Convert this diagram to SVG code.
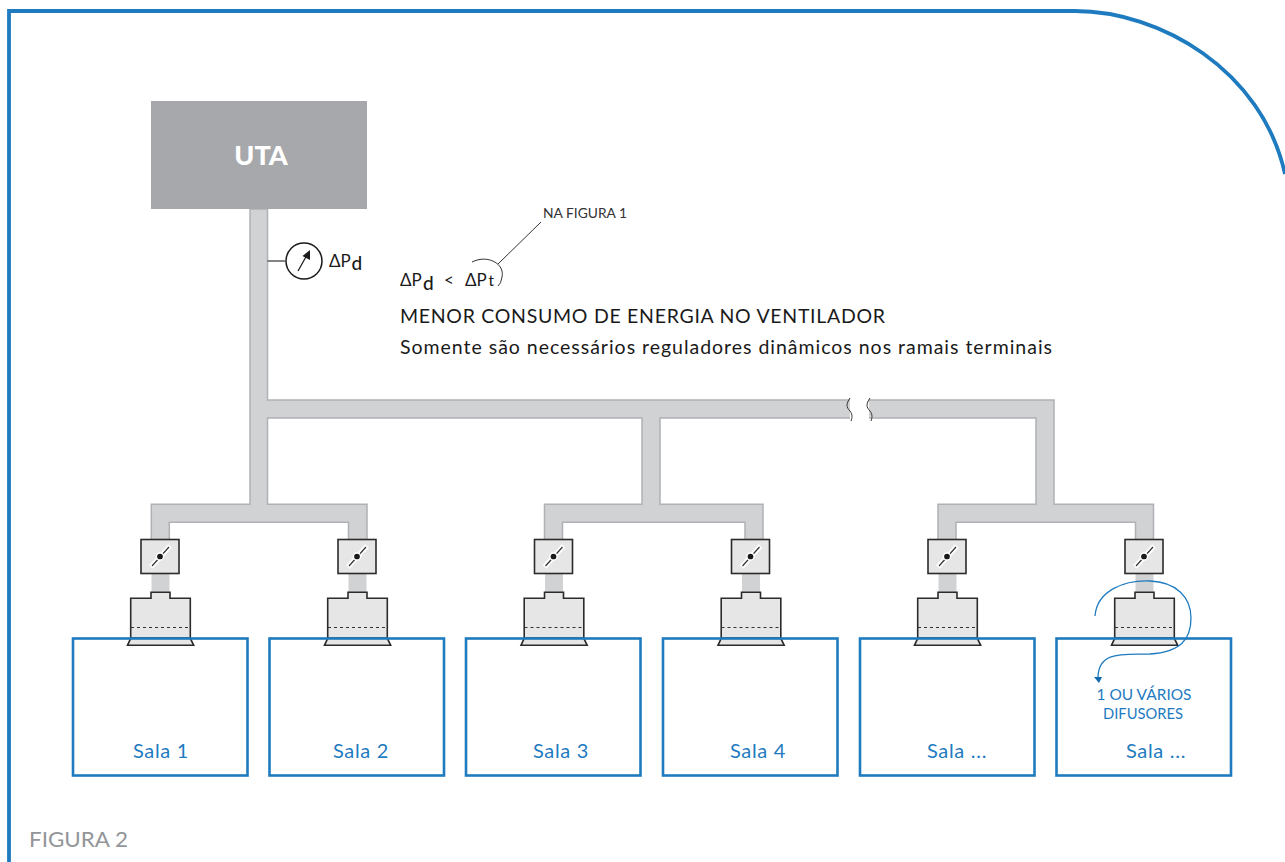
<svg xmlns="http://www.w3.org/2000/svg" width="1285" height="862" viewBox="0 0 1285 862">
<style>
text{font-family:"Lato","Liberation Sans",sans-serif}
.duct{fill:#d1d2d4;stroke:#b0b1b4;stroke-width:1.5}
.room{fill:none;stroke:#1f7bbf;stroke-width:2.6}
.rl{fill:#1f7bbf;font-size:20px;letter-spacing:.7px;text-anchor:middle}
.k{fill:#1a1a1a;font-size:17px}
.sub{font-size:19px;font-weight:500}
.box{fill:#e6e6e7;stroke:#2b2b2b;stroke-width:1.6}
.thin{fill:none;stroke:#333;stroke-width:1}
</style>
<defs>
<g id="unit">
<rect x="151.5" y="573" width="18" height="20" fill="#d1d2d4"/>
<rect class="box" x="141" y="539.5" width="38" height="34"/>
<path d="M151 567 L170 546" stroke="#fff" stroke-width="5" fill="none"/>
<path d="M152 566 L169 547" stroke="#333" stroke-width="1.2" fill="none"/>
<circle cx="160" cy="556.5" r="3.6" fill="#1a1a1a" stroke="#fff" stroke-width="1.5"/>
<path class="box" d="M130.7 638.3 V598.3 H151 V592.3 H170 V598.3 H190.3 V638.3 Z"/>
<path class="box" d="M130.7 638.3 H190.3 L193.7 645.3 H127.5 Z"/>
<path d="M131 627.5 H190" stroke="#333" stroke-width="1.2" stroke-dasharray="3 3" fill="none"/>
</g>
</defs>
<rect width="1285" height="862" fill="#fff"/>
<path id="frame" d="M9 862 V11 H1075 C1160 11 1262 70 1285 174" fill="none" stroke="#1f7bbf" stroke-width="3.8"/>
<g id="connectors">
<path class="duct" d="M250 209 H267.5 V400 H1054 V504.3 H1153.5 V540 H1135.5 V522.3 H956 V540 H938 V504.3 H1036 V418 H660 V504.3 H763 V540 H745 V522.3 H562.5 V540 H544.5 V504.3 H642 V418 H267.5 V504.3 H367 V540 H348.5 V522.3 H169.3 V540 H151.3 V504.3 H250 Z"/>
<path d="M850 399 H869 V419 H850 Z" fill="#fff"/>
<path class="thin" d="M850 398 C846 404 846 407 850 411 C853 415 852 418 851 421"/>
<path class="thin" d="M870 398 C866 404 866 407 870 411 C873 415 872 418 871 421"/>
<path d="M267.5 261 H285" stroke="#333" stroke-width="1.2"/>
<path class="thin" d="M498 264 L541 222"/>
<path class="thin" d="M472 262 C488 254 505 264 502 277 Q501 284 498 286"/>
</g>
<g id="uta"><rect x="151" y="101" width="216" height="108" fill="#a7a8ab"/><text x="261" y="165" fill="#fff" font-size="27" font-weight="900" text-anchor="middle">UTA</text></g>
<g id="gauge"><circle cx="304" cy="261" r="18" fill="#fff" stroke="#1a1a1a" stroke-width="1.5"/><path d="M298 271 L307 255" stroke="#1a1a1a" stroke-width="1.3"/><path d="M310 250 L310 260 L302.5 256 Z" fill="#1a1a1a"/>
<text class="k" x="329" y="267">ΔP</text><text class="sub" x="351.5" y="270" fill="#1a1a1a">d</text></g>
<g id="formula"><text class="k" x="400" y="286">ΔP</text><text class="sub" x="423" y="290" fill="#1a1a1a">d</text><text class="k" x="444" y="286">&lt;</text><text class="k" x="465" y="286">ΔP</text><text x="488.5" y="286" font-size="15" font-weight="500" fill="#1a1a1a">t</text>
<text x="543" y="218" font-size="13.2" fill="#333" textLength="84" lengthAdjust="spacingAndGlyphs">NA FIGURA 1</text>
<text x="400" y="323" font-size="19.5" fill="#1a1a1a" textLength="485" lengthAdjust="spacing">MENOR CONSUMO DE ENERGIA NO VENTILADOR</text>
<text x="400" y="354" font-size="19.5" fill="#1a1a1a" textLength="652" lengthAdjust="spacing">Somente são necessários reguladores dinâmicos nos ramais terminais</text></g>
<g id="u1"><use href="#unit"/></g>
<g id="u2"><use href="#unit" x="197"/></g>
<g id="u3"><use href="#unit" x="393.5"/></g>
<g id="u4"><use href="#unit" x="590.5"/></g>
<g id="u5"><use href="#unit" x="787"/></g>
<g id="u6"><use href="#unit" x="984"/></g>
<g id="sala1"><rect class="room" x="73" y="638.5" width="174.5" height="137"/><text class="rl" x="161" y="758">Sala 1</text></g>
<g id="sala2"><rect class="room" x="269.5" y="638.5" width="174.5" height="137"/><text class="rl" x="361" y="758">Sala 2</text></g>
<g id="sala3"><rect class="room" x="466" y="638.5" width="174.5" height="137"/><text class="rl" x="561" y="758">Sala 3</text></g>
<g id="sala4"><rect class="room" x="663" y="638.5" width="174.5" height="137"/><text class="rl" x="758" y="758">Sala 4</text></g>
<g id="sala5"><rect class="room" x="860" y="638.5" width="174.5" height="137"/><text class="rl" x="957" y="758">Sala ...</text></g>
<g id="sala6"><rect class="room" x="1056.5" y="638.5" width="174.5" height="137"/><text class="rl" x="1156" y="758">Sala ...</text>
<path d="M1095 616 C1097 590 1125 580 1150 581 C1176 582 1191 597 1191 618 C1191 640 1180 652 1150 654 C1125 655 1098 650 1098 678" fill="none" stroke="#1f7bbf" stroke-width="1.3"/>
<path d="M1094 677 H1102 L1099 683 Z" fill="#0f69ae"/>
<text x="1144" y="700" font-size="15" fill="#1f7bbf" text-anchor="middle" textLength="95" lengthAdjust="spacingAndGlyphs">1 OU VÁRIOS</text>
<text x="1143" y="719" font-size="15" fill="#1f7bbf" text-anchor="middle" textLength="80" lengthAdjust="spacingAndGlyphs">DIFUSORES</text></g>
<text id="caption" x="29" y="847" font-size="21" fill="#939598" textLength="99" lengthAdjust="spacingAndGlyphs">FIGURA 2</text>
</svg>
